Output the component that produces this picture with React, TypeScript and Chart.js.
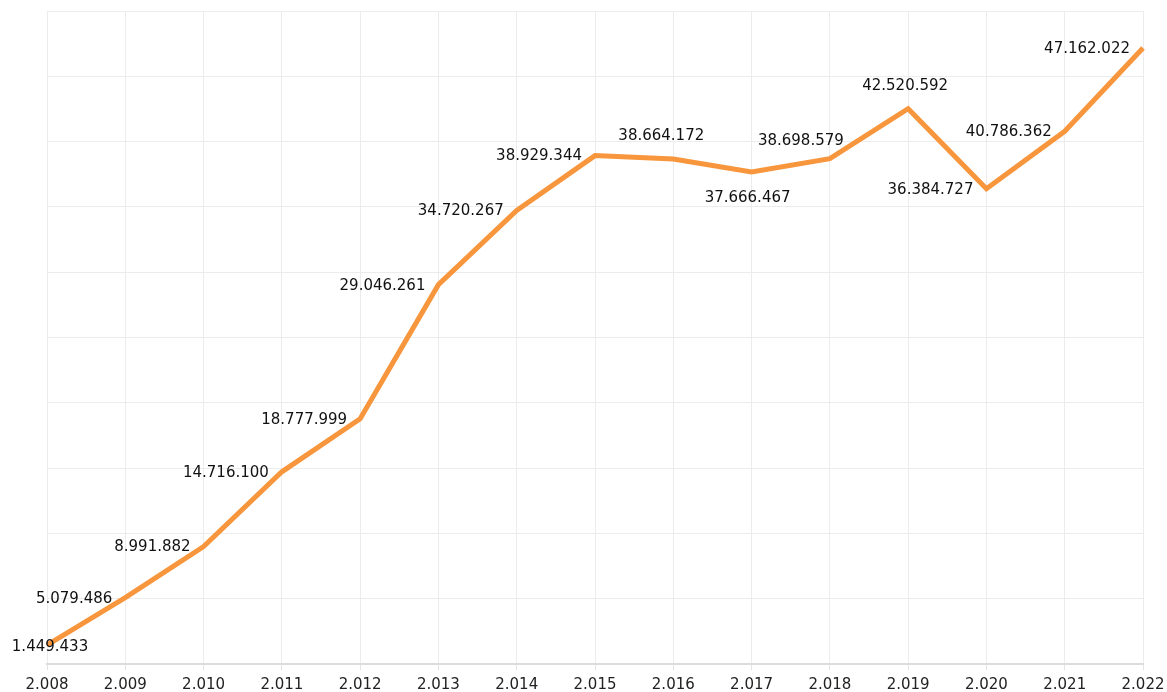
import React, { useEffect, useRef } from "react";
import { Chart, registerables } from "chart.js";

Chart.register(...registerables);

const years = ["2.008", "2.009", "2.010", "2.011", "2.012", "2.013", "2.014", "2.015", "2.016", "2.017", "2.018", "2.019", "2.020", "2.021", "2.022"];
const values = [1449433, 5079486, 8991882, 14716100, 18777999, 29046261, 34720267, 38929344, 38664172, 37666467, 38698579, 42520592, 36384727, 40786362, 47162022];
const valueLabels = ["1.449.433", "5.079.486", "8.991.882", "14.716.100", "18.777.999", "29.046.261", "34.720.267", "38.929.344", "38.664.172", "37.666.467", "38.698.579", "42.520.592", "36.384.727", "40.786.362", "47.162.022"];
const labelAnchors = ["center", "left", "left", "left", "left", "left", "left", "left", "aboveLeft", "below", "upLeft", "top", "left", "left", "left"];

const FONT = "'DejaVu Sans', Verdana, sans-serif";

const labelPlugin = {
  id: "valueLabels",
  afterDatasetsDraw(chart: any) {
    const ctx = chart.ctx;
    const meta = chart.getDatasetMeta(0);
    ctx.save();
    ctx.font = `15px ${FONT}`;
    ctx.fillStyle = "#111";
    ctx.textBaseline = "middle";
    meta.data.forEach((pt: any, i: number) => {
      const text = valueLabels[i];
      const a = labelAnchors[i];
      let x = pt.x;
      let y = pt.y;
      ctx.textAlign = "center";
      if (a === "left") {
        ctx.textAlign = "right";
        x = pt.x - 13;
        y = pt.y + 1;
      } else if (a === "aboveLeft") {
        x = pt.x - 12;
        y = pt.y - 23;
      } else if (a === "top") {
        x = pt.x - 3;
        y = pt.y - 23;
      } else if (a === "below") {
        x = pt.x - 4;
        y = pt.y + 26;
      } else if (a === "upLeft") {
        x = pt.x - 29;
        y = pt.y - 17;
      } else {
        x = pt.x + 3;
        y = pt.y + 2;
      }
      ctx.fillText(text, x, y);
    });
    ctx.restore();
  },
};

export default function App() {
  const ref = useRef<HTMLCanvasElement | null>(null);
  useEffect(() => {
    if (!ref.current) return;
    const chart = new Chart(ref.current, {
      type: "line",
      data: {
        labels: years,
        datasets: [
          {
            data: values,
            borderColor: "#F7963C",
            backgroundColor: "#F7963C",
            borderWidth: 5,
            pointRadius: 0,
            pointHoverRadius: 0,
            tension: 0,
            fill: false,
          },
        ],
      },
      options: {
        animation: false,
        responsive: true,
        maintainAspectRatio: false,
        layout: { padding: { left: 47, right: 24, top: 11, bottom: 0 } },
        plugins: {
          legend: { display: false },
          tooltip: { enabled: false },
        },
        scales: {
          x: {
            offset: false,
            afterFit: (scale: any) => {
              scale.height = 28;
              scale.paddingLeft = 0;
              scale.paddingRight = 0;
            },
            grid: { color: "#ececec", lineWidth: 1, tickLength: 6, drawTicks: true, tickColor: "#e4e4e4" },
            border: { display: true, color: "#dcdcdc", width: 2 },
            ticks: {
              color: "#222",
              font: { family: FONT, size: 15 },
              padding: 6,
              maxRotation: 0,
              autoSkip: false,
            },
          },
          y: {
            min: 0,
            max: 50000000,
            ticks: { display: false, stepSize: 5000000 },
            grid: { color: "#ececec", lineWidth: 1, drawTicks: false },
            border: { display: false },
          },
        },
      },
      plugins: [labelPlugin],
    });
    return () => chart.destroy();
  }, []);
  return (
    <div style={{ position: "absolute", left: 0, top: 0, width: 1167, height: 692 }}>
      <canvas ref={ref} />
    </div>
  );
}
